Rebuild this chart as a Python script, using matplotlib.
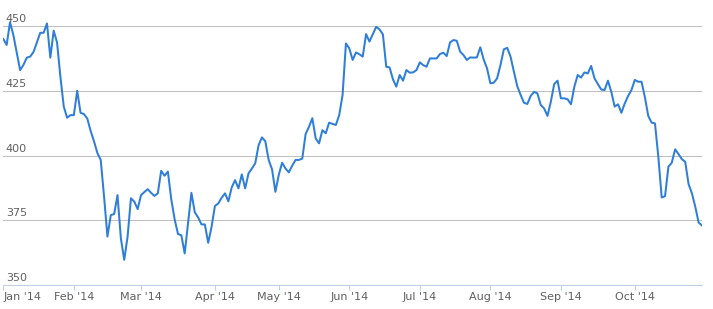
import matplotlib.pyplot as plt

# daily closes, one per trading day
prices = [
    445.0, 442.7, 451.5, 446.5, 439.8, 433.0, 435.0, 437.8, 438.2, 440.0,
    443.7, 447.4, 447.4, 451.0, 437.8, 448.2, 443.7, 430.4, 418.9, 414.6,
    415.6, 415.6, 425.0, 416.5, 416.0, 414.3, 409.5, 405.5, 401.0, 398.3,
    384.1, 368.7, 377.0, 377.4, 384.7, 368.0, 359.7, 368.7, 383.5, 382.2,
    379.3, 384.7, 385.9, 387.0, 385.6, 384.4, 385.4, 394.1, 392.2, 393.8,
    383.1, 375.4, 369.7, 369.2, 362.2, 373.8, 385.6, 378.1, 376.1, 373.4,
    373.4, 366.3, 372.5, 380.5, 381.5, 383.7, 385.4, 382.3, 387.7, 390.5,
    387.3, 392.7, 387.3, 393.1, 395.0, 397.0, 404.0, 407.0, 405.5, 398.3,
    394.7, 386.0, 392.5, 397.2, 395.0, 393.5, 396.1, 398.3, 398.3, 398.8,
    408.3, 411.1, 414.4, 406.6, 404.7, 409.8, 408.6, 412.7, 412.2, 411.8,
    415.6, 423.4, 443.3, 441.4, 436.9, 439.8, 439.1, 438.2, 446.9, 444.0,
    446.9, 449.7, 448.7, 446.8, 434.3, 434.0, 429.4, 426.6, 431.1, 428.9,
    433.0, 432.0, 432.1, 433.0, 436.0, 434.9, 434.3, 437.5, 437.5, 437.5,
    439.2, 439.7, 438.4, 443.7, 444.6, 444.3, 440.1, 438.8, 436.9, 437.9,
    437.8, 437.9, 441.8, 437.1, 433.7, 427.9, 428.1, 429.8, 434.9, 441.0,
    441.6, 438.2, 432.4, 426.8, 423.4, 420.4, 419.9, 423.0, 424.6, 424.0,
    419.5, 418.2, 415.3, 420.8, 427.6, 428.9, 422.1, 422.1, 421.7, 419.8,
    426.6, 431.1, 430.1, 432.1, 431.7, 434.6, 429.8, 427.6, 425.5, 425.3,
    428.9, 424.6, 418.9, 419.8, 416.5, 420.1, 423.0, 425.3, 429.2, 428.5,
    428.5, 422.5, 415.3, 412.7, 412.4, 399.5, 383.8, 384.3, 395.7, 397.2,
    402.4, 400.6, 398.6, 397.6, 389.0, 385.4, 380.2, 374.1, 373.0,
]

# first trading day of each month (index into prices)
month_idx = [0, 21, 41, 63, 82, 103, 124, 145, 166, 188]
month_labels = ["Jan '14", "Feb '14", "Mar '14", "Apr '14", "May '14",
                "Jun '14", "Jul '14", "Aug '14", "Sep '14", "Oct '14"]
y_ticks = [350, 375, 400, 425, 450]

W, H = 713, 309
fig = plt.figure(figsize=(W / 100, H / 100), dpi=100, facecolor='white')
ax = fig.add_axes([3.3 / W, 1 - 285 / H, (702 - 3.3) / W, (285 - 10) / H])

ax.plot(range(len(prices)), prices, color='#2f7ed8', lw=1.45,
        solid_joinstyle='round', zorder=3)

ax.set_xlim(0, len(prices) - 1)
ax.set_ylim(350, 456.2)

ax.set_yticks(y_ticks)
ax.yaxis.grid(True, color='#c0c0c0', lw=0.75)
ax.tick_params(axis='y', length=0, labelleft=False)
for v in y_ticks:
    ax.annotate(str(v), xy=(0, v), xycoords=ax.get_yaxis_transform(),
                xytext=(2.5, 2), textcoords='offset pixels',
                ha='left', va='bottom', fontsize=8, color='#606060')

ax.set_xticks(month_idx)
ax.set_xticklabels(month_labels, fontsize=8, color='#606060')
ax.xaxis.get_majorticklabels()[0].set_horizontalalignment('left')
ax.tick_params(axis='x', direction='out', length=3.6, width=0.75,
               color='#c0d0e0', pad=1.5)

for s in ['top', 'left', 'right']:
    ax.spines[s].set_visible(False)
ax.spines['bottom'].set_color('#c0d0e0')
ax.spines['bottom'].set_linewidth(0.75)
ax.set_axisbelow(True)

fig.savefig('out.png', dpi=100, facecolor='white')
